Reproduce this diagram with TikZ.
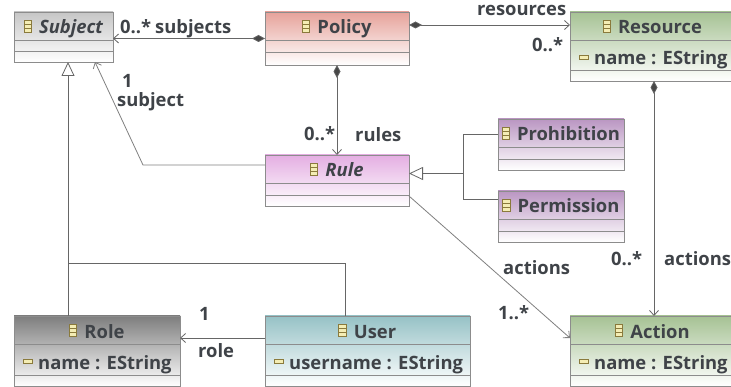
\documentclass[tikz,border=0pt]{standalone}
\usepackage{fontspec}
\setmainfont{Open Sans}
\usetikzlibrary{positioning,arrows.meta,calc,shadows}

\definecolor{textgray}{HTML}{3F4348}
\definecolor{linegray}{HTML}{666666}
\definecolor{iconyellow}{HTML}{F4EDB4}
\definecolor{iconbrown}{HTML}{8A7A3C}
\definecolor{subjecthead}{HTML}{C6C6C6}
\definecolor{policyhead}{HTML}{E6A29A}
\definecolor{greenhead}{HTML}{A6C294}
\definecolor{rulehead}{HTML}{E4AEE2}
\definecolor{violethead}{HTML}{BA96C2}
\definecolor{rolehead}{HTML}{7E7E7E}
\definecolor{userhead}{HTML}{96C2C6}

\tikzset{
  classbox/.style={draw=black!45,line width=.8pt,bottom color=white,anchor=north west,
    inner sep=0pt,outer sep=0pt,
    drop shadow={shadow xshift=1.2pt,shadow yshift=-1.2pt,opacity=.35,fill=black!50}},
  sepline/.style={draw=black!45,line width=.8pt},
  classtitle/.style={font=\fontsize{18.4}{20}\selectfont\bfseries,text=textgray,inner sep=0pt,anchor=base},
  classattr/.style={font=\fontsize{18.4}{20}\selectfont\bfseries,text=textgray,inner sep=0pt,anchor=base west},
  endlabel/.style={font=\fontsize{18.4}{20}\selectfont\bfseries,text=textgray,inner sep=0pt,anchor=base west},
  assoc/.style={draw=linegray,line width=.8pt,-{Straight Barb[length=5pt,width=9pt]}},
  contain/.style={assoc,{Diamond[length=13pt,width=7pt,fill=linegray!70!black]}-{Straight Barb[length=5pt,width=9pt]}},
  inherit/.style={draw=linegray,line width=.8pt,-{Triangle[open,fill=white,length=14pt,width=13pt]}},
  branch/.style={draw=linegray,line width=.8pt}
}

% box, two compartment lines, title and its icon
\newcommand{\umlclass}[8]{
  \node[classbox,top color=#7,minimum width=#4pt,minimum height=#5pt] (#1) at (#2,#3) {};
  \draw[sepline] ($(#1.north west)+(0,28)$) -- ($(#1.north east)+(0,28)$);
  \draw[sepline] ($(#1.south west)+(0,-#6)$) -- ($(#1.south east)+(0,-#6)$);
  \node[classtitle] (#1title) at ($(#1.north)+(7.5,22)$) {#8};
  \draw[draw=iconbrown,fill=iconyellow,line width=.6pt]
    ($(#1title.base west)+(-15,-14)$) rectangle ($(#1title.base west)+(-7.5,-2)$);
  \draw[draw=iconbrown,line width=.5pt]
    ($(#1title.base west)+(-15,-10)$) -- ($(#1title.base west)+(-7.5,-10)$)
    ($(#1title.base west)+(-15,-6)$) -- ($(#1title.base west)+(-7.5,-6)$);
}
\newcommand{\umlattr}[2]{
  \node[classattr] (#1attr) at ($(#1.north west)+(24,53)$) {#2};
  \draw[draw=iconbrown,fill=iconyellow,line width=.6pt]
    ($(#1attr.base west)+(-15,-10)$) rectangle ($(#1attr.base west)+(-6,-6)$);
}

\begin{document}
\begin{tikzpicture}[x=1pt,y=-1pt]
    \clip (0,0) rectangle (731,387);
    \fill[white] (0,0) rectangle (731,387);

    \umlclass{subject}{14}{12}{99}{50}{11}{subjecthead}{\itshape Subject}
    \umlclass{policy}{265}{12}{144}{53}{13}{policyhead}{Policy}
    \umlclass{resource}{570}{12}{165}{69}{11}{greenhead}{Resource}
    \umlclass{rule}{265}{155}{144}{51}{11}{rulehead}{\itshape Rule}
    \umlclass{prohibition}{498}{119}{126}{51}{11}{violethead}{Prohibition}
    \umlclass{permission}{498}{191}{126}{51}{11}{violethead}{Permission}
    \umlclass{role}{14}{316}{166}{70}{11}{rolehead}{Role}
    \umlclass{user}{265}{316}{205}{70}{11}{userhead}{User}
    \umlclass{action}{570}{316}{165}{70}{11}{greenhead}{Action}

    \umlattr{resource}{name : EString}
    \umlattr{role}{name : EString}
    \umlattr{user}{username : EString}
    \umlattr{action}{name : EString}

    \coordinate (userup) at ($(user.north west)+(80,-53)$);
    \coordinate (ruleleft) at ($(rule.north west)+(-122,10)$);
    \coordinate (subjectfoot) at ($(subject.south west)+(81,0)$);
    \coordinate (rolefoot) at ($(role.north west)+(54,0)$);
    \coordinate (subjecttip) at ($(subject.south west)+(54,0)$);
    \coordinate (branchmid) at ($(rule.east)+(54,-7)$);

    \draw[contain] (policy.west) -- (policy.west -| subject.east);
    \draw[contain] ($(policy.north east)+(0,13)$) -- ($(resource.north west)+(0,13)$);
    \draw[contain] (policy.south) -- (rule.north);
    \draw[contain] ($(resource.south west)+(84,0)$) -- ($(action.north west)+(84,0)$);

    \draw[assoc,draw=black!50] ($(rule.north west)+(0,10)$) -- (ruleleft) -- (subjectfoot);
    \draw[assoc,draw=black!50] ($(rule.south east)+(0,-10)$) -- ($(action.north west)+(0,22)$);
    \draw[assoc] ($(user.north west)+(0,22)$) -- ($(role.north east)+(0,22)$);

    \draw[inherit] (rolefoot) -- (subjecttip);
    \draw[branch] ($(user.north west)+(80,0)$) -- (userup) -- (userup -| rolefoot);
    \draw[inherit] (branchmid) -- (branchmid -| rule.east);
    \draw[branch] ($(prohibition.north west)+(0,15)$) -- ($(prohibition.north west)+(-35,15)$)
      -- ($(permission.north west)+(-35,8)$) -- ($(permission.north west)+(0,8)$);

    \node[endlabel] (subjectsmult) at (120,33.5) {0..*};
    \node[endlabel] (subjectslabel) at (155,33.5) {subjects};
    \node[endlabel] (resourceslabel) at (477,16) {resources};
    \node[endlabel] (resourcesmult) at (532,52) {0..*};
    \node[endlabel] (subjectmult) at (122,87.5) {1};
    \node[endlabel] (subjectlabel) at (117,106.5) {subject};
    \node[endlabel] (rulesmult) at (304,140.5) {0..*};
    \node[endlabel] (ruleslabel) at (355,142) {rules};
    \node[endlabel] (actionslabel) at (503,274.5) {actions};
    \node[endlabel] (actionsmult) at (611,265.5) {0..*};
    \node[endlabel] (actionsright) at (664,265.5) {actions};
    \node[endlabel] (actionmult) at (498,319.5) {1..*};
    \node[endlabel] (rolemult) at (199,321) {1};
    \node[endlabel] (rolelabel) at (198,357) {role};
\end{tikzpicture}
\end{document}
